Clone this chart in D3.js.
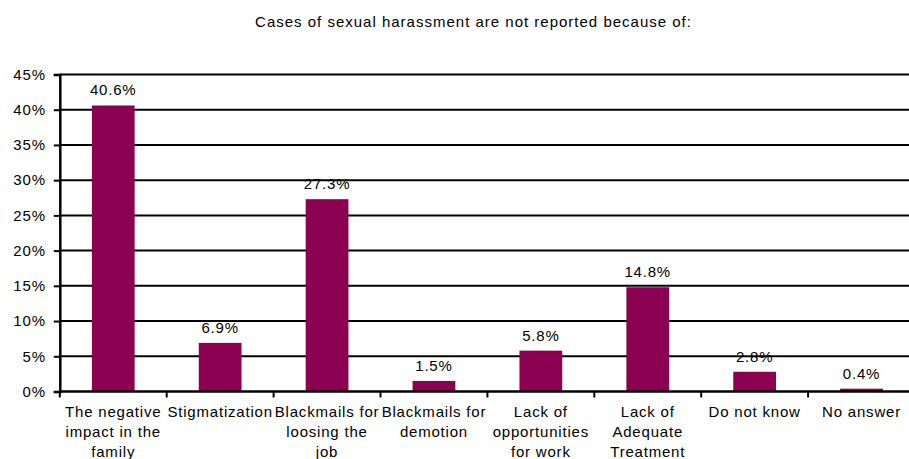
<!DOCTYPE html>
<html>
<head>
<meta charset="utf-8">
<script src="https://cdn.jsdelivr.net/npm/d3@7"></script>
<style>
  html, body { margin: 0; padding: 0; background: #fff; }
  svg { display: block; font-family: "Liberation Sans", Arial, sans-serif; }
</style>
</head>
<body>
<svg id="chart" width="909" height="459"></svg>
<script>
// Reasons why cases of sexual harassment go unreported (share of responses, %)
const categories = [
  "The negative\nimpact in the\nfamily",
  "Stigmatization",
  "Blackmails for\nloosing the\njob",
  "Blackmails for\ndemotion",
  "Lack of\nopportunities\nfor work",
  "Lack of\nAdequate\nTreatment",
  "Do not know",
  "No answer"
];
const values = [40.6, 6.9, 27.3, 1.5, 5.8, 14.8, 2.8, 0.4];
const yTicks = [0, 5, 10, 15, 20, 25, 30, 35, 40, 45];
const title = "Cases of sexual harassment are not reported because of:";

const svg = d3.select("#chart");
const plotLeft = 59.8, plotRight = 915, plotTop = 74.5, plotBottom = 391.5;
const fontSize = 15, spacing = "0.8px";

const x = d3.scaleBand().domain(categories).range([plotLeft, plotRight])
  .paddingInner(0.6).paddingOuter(0.3);
const y = d3.scaleLinear().domain([0, 45]).range([plotBottom, plotTop]);

// Title
svg.append("text")
  .attr("x", 473.5).attr("y", 26.5)
  .attr("text-anchor", "middle")
  .attr("font-size", fontSize).attr("letter-spacing", "1px")
  .attr("fill", "#000")
  .text(title);

// Horizontal gridlines
svg.append("g").selectAll("line")
  .data(yTicks.filter(d => d > 0))
  .join("line")
  .attr("x1", plotLeft).attr("x2", plotRight)
  .attr("y1", d => y(d)).attr("y2", d => y(d))
  .attr("stroke", "#000").attr("stroke-width", 2);

// Bars
svg.append("g").selectAll("rect")
  .data(values)
  .join("rect")
  .attr("x", (d, i) => x(categories[i]))
  .attr("width", x.bandwidth())
  .attr("y", d => y(d))
  .attr("height", d => y(0) - y(d))
  .attr("fill", "#8b0050");

// Value labels
svg.append("g").selectAll("text")
  .data(values)
  .join("text")
  .attr("x", (d, i) => x(categories[i]) + x.bandwidth() / 2)
  .attr("y", d => y(d) - 10)
  .attr("text-anchor", "middle")
  .attr("font-size", fontSize).attr("letter-spacing", spacing)
  .text(d => d.toFixed(1) + "%");

// Y axis
const yAxis = d3.axisLeft(y).tickValues(yTicks).tickSize(6).tickPadding(8)
  .tickFormat(d => d + "%");
const gy = svg.append("g").attr("transform", `translate(${plotLeft},0)`).call(yAxis);
gy.select(".domain").attr("stroke", "#000").attr("stroke-width", 2.5);
gy.selectAll(".tick line").attr("stroke", "#000").attr("stroke-width", 2);
gy.selectAll(".tick text").attr("font-size", fontSize).attr("letter-spacing", spacing)
  .attr("font-family", "Liberation Sans, Arial, sans-serif").attr("fill", "#000");

// X axis with ticks at category boundaries
const boundaries = d3.range(categories.length + 1).map(i => plotLeft + i * x.step());
svg.append("line")
  .attr("x1", plotLeft).attr("x2", plotRight)
  .attr("y1", y(0)).attr("y2", y(0))
  .attr("stroke", "#000").attr("stroke-width", 2.5);
svg.append("g").selectAll("line")
  .data(boundaries)
  .join("line")
  .attr("x1", d => d).attr("x2", d => d)
  .attr("y1", y(0)).attr("y2", y(0) + 6)
  .attr("stroke", "#000").attr("stroke-width", 2);

// Category labels
const catG = svg.append("g").selectAll("text")
  .data(categories)
  .join("text")
  .attr("x", d => x(d) + x.bandwidth() / 2)
  .attr("y", 417)
  .attr("text-anchor", "middle")
  .attr("font-size", fontSize).attr("letter-spacing", spacing)
  .attr("fill", "#000");
catG.selectAll("tspan")
  .data(d => d.split("\n").map(line => ({ line, cx: x(d) + x.bandwidth() / 2 })))
  .join("tspan")
  .attr("x", d => d.cx)
  .attr("dy", (d, i) => i === 0 ? 0 : 20)
  .text(d => d.line);
</script>
</body>
</html>
